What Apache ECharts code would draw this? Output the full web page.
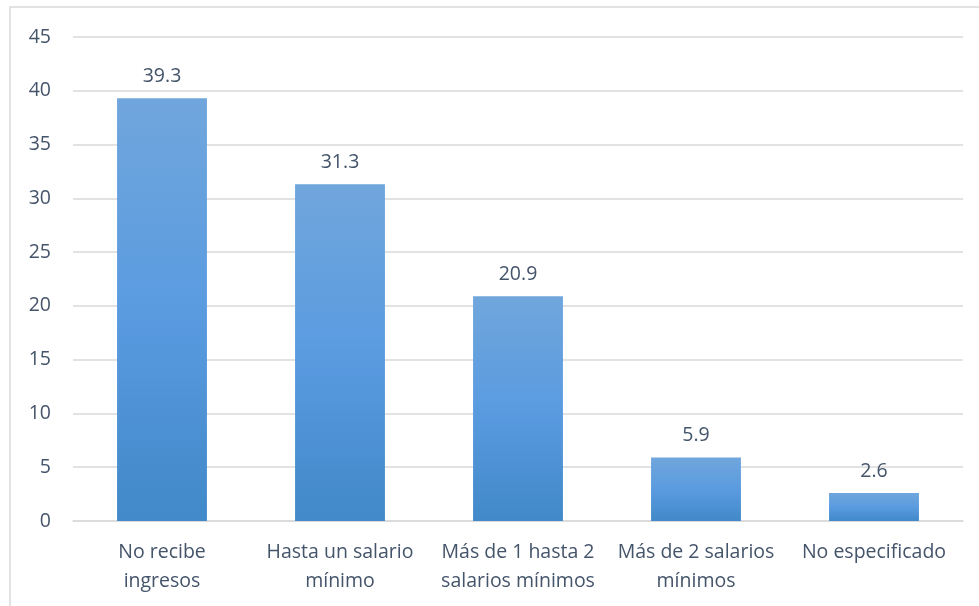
<!DOCTYPE html>
<html>
<head>
<meta charset="utf-8">
<script src="https://cdn.jsdelivr.net/npm/echarts@6/dist/echarts.min.js"></script>
<style>
  html, body { margin: 0; padding: 0; background: #fff; }
  #chart { width: 979px; height: 606px; }
</style>
</head>
<body>
<div id="chart"></div>
<script>
const categories = [
  'No recibe\ningresos',
  'Hasta un salario\nmínimo',
  'Más de 1 hasta 2\nsalarios mínimos',
  'Más de 2 salarios\nmínimos',
  'No especificado'
];
const values = [39.3, 31.3, 20.9, 5.9, 2.6];
const yTicks = { min: 0, max: 45, step: 5 };

const textColor = '#44546A';
const font = '"Open Sans", Lato, sans-serif';

let chart = echarts.init(document.getElementById('chart'), null, { renderer: 'canvas' });

chart.setOption({
  animation: false,
  backgroundColor: '#fff',
  graphic: [{
    type: 'rect',
    shape: { x: 10, y: 7, width: 990, height: 620 },
    style: { fill: 'none', stroke: '#d9d9d9', lineWidth: 1.5 },
    silent: true
  }],
  grid: { left: 73, right: 16, top: 37, bottom: 85 },
  xAxis: {
    type: 'category',
    data: categories,
    axisLine: { lineStyle: { color: '#d9d9d9', width: 1.5 } },
    axisTick: { show: false },
    axisLabel: {
      color: textColor, fontSize: 19.5, fontFamily: font,
      lineHeight: 29, margin: 17, interval: 0
    }
  },
  yAxis: {
    type: 'value',
    min: yTicks.min, max: yTicks.max, interval: yTicks.step,
    axisLine: { show: false },
    axisTick: { show: false },
    splitLine: { lineStyle: { color: '#d9d9d9', width: 1.5 } },
    axisLabel: { color: textColor, fontSize: 19.5, fontFamily: font, margin: 22 }
  },
  series: [{
    type: 'bar',
    data: values,
    barWidth: '50.5%',
    itemStyle: {
      color: new echarts.graphic.LinearGradient(0, 0, 0, 1, [
        { offset: 0, color: '#70a6dc' },
        { offset: 0.5, color: '#5a9be0' },
        { offset: 1, color: '#4189c8' }
      ])
    },
    label: {
      show: true, position: 'top', distance: 12,
      color: textColor, fontSize: 19.5, fontFamily: font,
      formatter: p => p.value.toFixed(1)
    }
  }]
});
</script>
</body>
</html>
